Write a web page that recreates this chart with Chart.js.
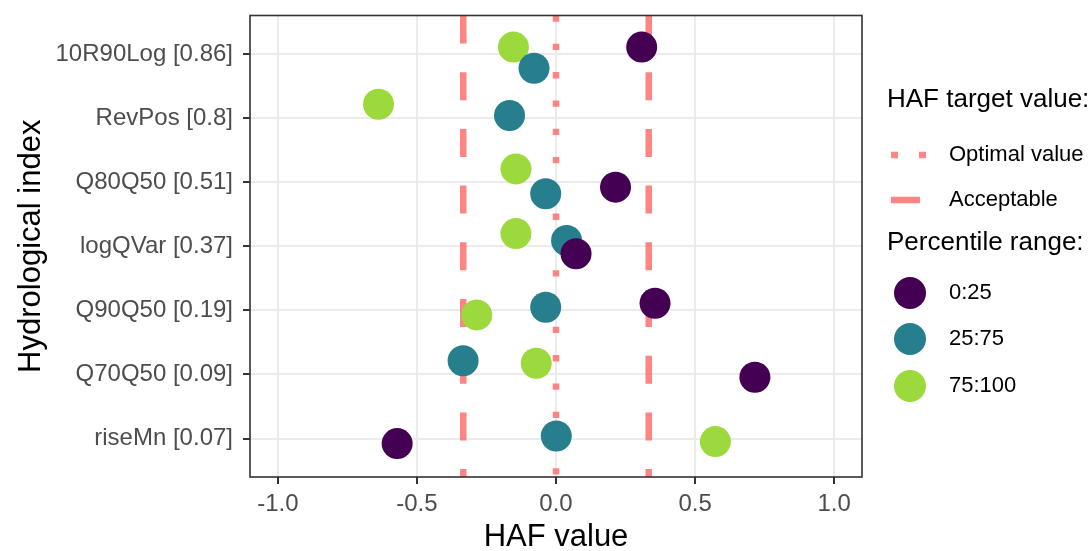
<!DOCTYPE html>
<html>
<head>
<meta charset="utf-8">
<script src="https://cdn.jsdelivr.net/npm/chart.js@4.4.1/dist/chart.umd.min.js"></script>
<style>
  body { margin: 0; background: #fff; }
</style>
</head>
<body>
<canvas id="hafChart" width="1092" height="551"></canvas>
<script>
// Hydrological indices, top to bottom
const categories = ['10R90Log [0.86]', 'RevPos [0.8]', 'Q80Q50 [0.51]', 'logQVar [0.37]', 'Q90Q50 [0.19]', 'Q70Q50 [0.09]', 'riseMn [0.07]'];

// HAF values per percentile range, plus the vertical jitter
const haf0to25 = [0.308, null, 0.214, 0.072, 0.356, 0.715, -0.571];
const jit0to25 = [0.107, null, -0.078, -0.118, 0.110, -0.044, -0.079];
const haf25to75 = [-0.079, -0.167, -0.037, 0.038, -0.037, -0.334, 0.001];
const jit25to75 = [-0.224, 0.040, -0.182, 0.089, 0.048, 0.214, 0.040];
const haf75to100 = [-0.153, -0.638, -0.144, -0.144, -0.285, -0.071, 0.573];
const jit75to100 = [0.107, 0.216, 0.207, 0.197, -0.071, 0.174, -0.048];

const rangeLabels = ['0:25', '25:75', '75:100'];
const rangeColors = ['#440154', '#277F8E', '#9BD93C'];

const optimalValue = 0;
const acceptableValue = 1 / 3;
const xTicks = [-1, -0.5, 0, 0.5, 1];

const FONT = "'Liberation Sans', Arial, sans-serif";
const lineColor = 'rgba(255, 110, 110, 0.85)';

// category i sits at y = n - i (top category highest)
function toPoints(values, jitter) {
    const pts = [];
    values.forEach((v, i) => {
        if (v !== null) pts.push({ x: v, y: categories.length - i + jitter[i] });
    });
    return pts;
}

function vline(x, dash, order) {
    return {
        type: 'line',
        data: [{ x: x, y: categories.length + 0.6 }, { x: x, y: 0.4 }],
        borderColor: lineColor,
        borderWidth: 6.5,
        borderDash: dash,
        borderCapStyle: 'butt',
        pointRadius: 0,
        showLine: true,
        order: order
    };
}

// panel border + custom two-part legend
const panelAndLegend = {
    id: 'panelAndLegend',
    afterDatasetsDraw(chart) {
        const { ctx, chartArea: a } = chart;
        ctx.save();
        ctx.strokeStyle = '#333333';
        ctx.lineWidth = 1.6;
        ctx.strokeRect(a.left, a.top, a.right - a.left, a.bottom - a.top);

        ctx.fillStyle = '#000';
        ctx.textBaseline = 'middle';
        ctx.textAlign = 'left';
        ctx.font = '26px ' + FONT;
        ctx.fillText('HAF target value:', 887, 100);
        ctx.fillText('Percentile range:', 887, 243);

        ctx.font = '22px ' + FONT;
        ctx.fillText('Optimal value', 949, 155);
        ctx.fillText('Acceptable', 949, 200);

        // line keys
        ctx.strokeStyle = lineColor;
        ctx.lineWidth = 6.5;
        ctx.setLineDash([7, 21]);
        ctx.beginPath();
        ctx.moveTo(891, 155);
        ctx.lineTo(927, 155);
        ctx.stroke();
        ctx.setLineDash([]);
        ctx.beginPath();
        ctx.moveTo(891, 200);
        ctx.lineTo(920, 200);
        ctx.stroke();

        // point keys
        const keyY = [293, 339, 386];
        rangeLabels.forEach((lab, i) => {
            ctx.fillStyle = rangeColors[i];
            ctx.beginPath();
            ctx.arc(910, keyY[i], 16, 0, Math.PI * 2);
            ctx.fill();
            ctx.fillStyle = '#000';
            ctx.fillText(lab, 949, keyY[i]);
        });
        ctx.restore();
    }
};

const ctx = document.getElementById('hafChart').getContext('2d');
const hafChart = new Chart(ctx, {
    type: 'scatter',
    data: {
        datasets: [
            {
                label: rangeLabels[0],
                data: toPoints(haf0to25, jit0to25),
                backgroundColor: rangeColors[0],
                borderWidth: 0,
                pointRadius: 15.5,
                order: 1
            },
            {
                label: rangeLabels[1],
                data: toPoints(haf25to75, jit25to75),
                backgroundColor: rangeColors[1],
                borderWidth: 0,
                pointRadius: 15.5,
                order: 2
            },
            {
                label: rangeLabels[2],
                data: toPoints(haf75to100, jit75to100),
                backgroundColor: rangeColors[2],
                borderWidth: 0,
                pointRadius: 15.5,
                order: 3
            },
            vline(optimalValue, [6.3, 22], 4),
            vline(-acceptableValue, [28, 28.7], 5),
            vline(acceptableValue, [28, 28.7], 6)
        ]
    },
    options: {
        responsive: false,
        animation: false,
        devicePixelRatio: 1,
        layout: { padding: { left: 0, right: 230, top: 15, bottom: 0 } },
        plugins: {
            legend: { display: false },
            tooltip: { enabled: false }
        },
        scales: {
            x: {
                type: 'linear',
                min: -1.1,
                max: 1.1,
                afterBuildTicks: scale => { scale.ticks = xTicks.map(v => ({ value: v })); },
                afterFit: scale => { scale.height = 74; scale.paddingLeft = 0; scale.paddingRight = 0; },
                grid: { color: '#EBEBEB', lineWidth: 2, tickColor: '#333333', tickLength: 7, tickWidth: 2 },
                border: { display: false },
                ticks: {
                    padding: 6,
                    color: '#4D4D4D',
                    font: { family: FONT, size: 24, lineHeight: 1.2 },
                    callback: v => v.toFixed(1)
                },
                title: {
                    display: true,
                    text: 'HAF value',
                    color: '#000',
                    padding: 0,
                    font: { family: FONT, size: 31, lineHeight: 0.85 }
                }
            },
            y: {
                type: 'linear',
                min: 0.4,
                max: categories.length + 0.6,
                afterBuildTicks: scale => { scale.ticks = categories.map((c, i) => ({ value: categories.length - i })); },
                afterFit: scale => { scale.width = 250; scale.paddingTop = 0; scale.paddingBottom = 0; },
                grid: { color: '#EBEBEB', lineWidth: 2, tickColor: '#333333', tickLength: 7, tickWidth: 2 },
                border: { display: false },
                ticks: {
                    padding: 10,
                    color: '#4D4D4D',
                    font: { family: FONT, size: 24 },
                    callback: v => categories[categories.length - v]
                },
                title: {
                    display: true,
                    text: 'Hydrological index',
                    color: '#000',
                    padding: { top: 16, bottom: 0 },
                    font: { family: FONT, size: 31, lineHeight: 1 }
                }
            }
        }
    },
    plugins: [panelAndLegend]
});
</script>
</body>
</html>
